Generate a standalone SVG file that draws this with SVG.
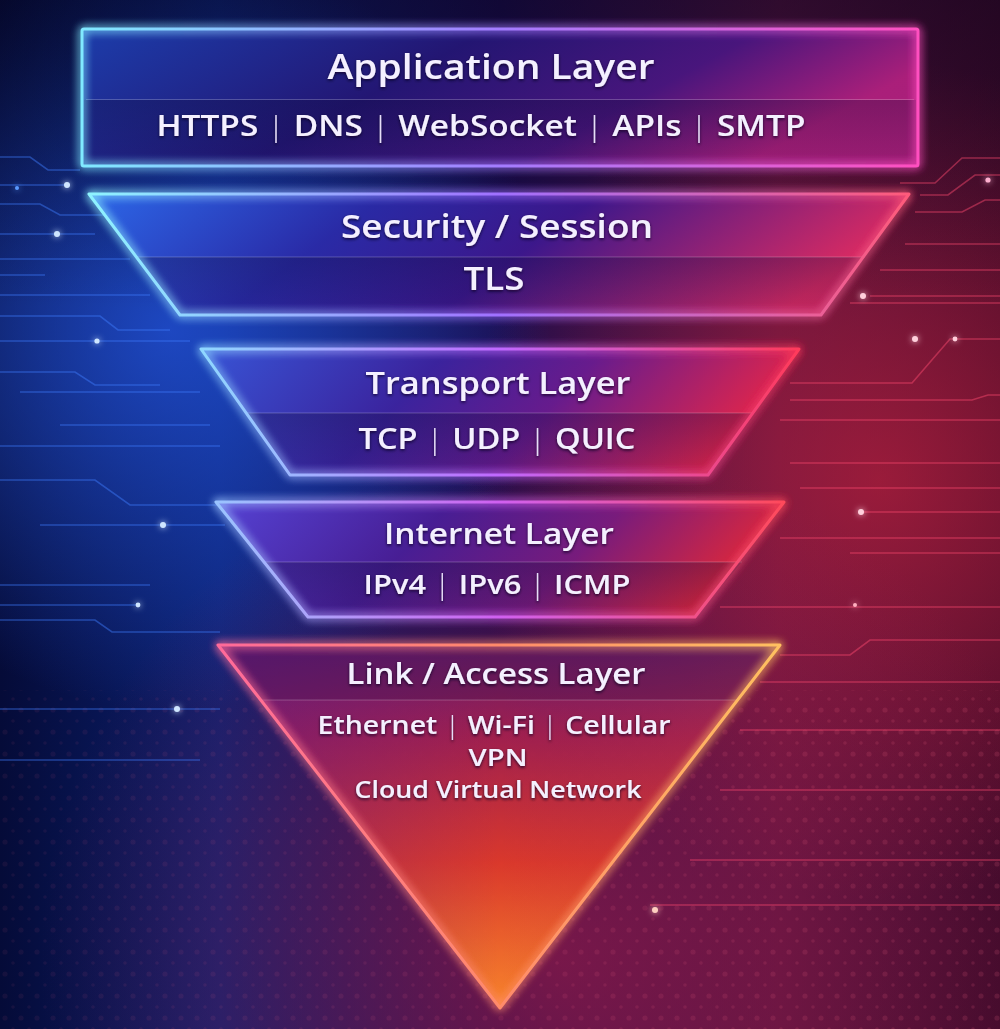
<svg xmlns="http://www.w3.org/2000/svg" width="1000" height="1029" viewBox="0 0 1000 1029">
<defs>
<style>
.t{font-family:"Open Sans","Noto Sans","Liberation Sans",sans-serif;font-weight:600;fill:#f4f0ff;text-anchor:middle;filter:url(#tshadow)}
.p{font-weight:300;fill:#e6def8}
.lb{fill:none;stroke:#3f7dff;stroke-width:1.6;opacity:.45}
.lr{fill:none;stroke:#ff4a70;stroke-width:1.6;opacity:.45}
.div{stroke:#ffffff;stroke-width:1.2;opacity:.22}
.edge{fill:none;stroke-width:3;stroke-linejoin:round;filter:url(#glow)}
</style>
<filter id="glow" x="-20%" y="-20%" width="140%" height="140%">
<feGaussianBlur in="SourceGraphic" stdDeviation="5" result="b"/>
<feMerge><feMergeNode in="b"/><feMergeNode in="b"/><feMergeNode in="SourceGraphic"/></feMerge>
</filter>
<filter id="dotglow" x="-300%" y="-300%" width="700%" height="700%">
<feGaussianBlur stdDeviation="3" result="b"/>
<feMerge><feMergeNode in="b"/><feMergeNode in="SourceGraphic"/></feMerge>
</filter>
<filter id="tshadow" x="-10%" y="-30%" width="120%" height="160%">
<feDropShadow dx="0" dy="1.5" stdDeviation="1.5" flood-color="#0a0420" flood-opacity=".8"/>
</filter>
<linearGradient id="bgH" x1="0" y1="0" x2="1" y2="0">
<stop offset="0" stop-color="#050b38"/>
<stop offset=".22" stop-color="#0b2070"/>
<stop offset=".5" stop-color="#1b0c4c"/>
<stop offset=".78" stop-color="#52123e"/>
<stop offset="1" stop-color="#3d0a2a"/>
</linearGradient>
<radialGradient id="gBlue" cx="170" cy="330" r="380" gradientUnits="userSpaceOnUse">
<stop offset="0" stop-color="#2456e0" stop-opacity=".75"/>
<stop offset="1" stop-color="#2456e0" stop-opacity="0"/>
</radialGradient>
<radialGradient id="gRed" cx="880" cy="480" r="420" gradientUnits="userSpaceOnUse">
<stop offset="0" stop-color="#d0243e" stop-opacity=".6"/>
<stop offset="1" stop-color="#d0243e" stop-opacity="0"/>
</radialGradient>
<radialGradient id="gBot" cx="560" cy="960" r="520" gradientUnits="userSpaceOnUse">
<stop offset="0" stop-color="#9a1c4a" stop-opacity=".7"/>
<stop offset="1" stop-color="#9a1c4a" stop-opacity="0"/>
</radialGradient>
<linearGradient id="gTop" x1="0" y1="0" x2="0" y2="1">
<stop offset="0" stop-color="#05031a" stop-opacity=".45"/>
<stop offset=".3" stop-color="#05031a" stop-opacity="0"/>
</linearGradient>
<pattern id="dots" width="16" height="22" patternUnits="userSpaceOnUse">
<circle cx="5" cy="6" r="2.6" fill="#ff6a8a"/>
<circle cx="13" cy="17" r="1.8" fill="#ff6a8a"/>
</pattern>
<linearGradient id="dotFade" x1="0" y1="0" x2="1" y2="0">
<stop offset="0" stop-color="#7a60ff" stop-opacity=".15"/>
<stop offset=".5" stop-color="#ff5a8a" stop-opacity=".2"/>
<stop offset="1" stop-color="#ff5a6a" stop-opacity=".3"/>
</linearGradient>
<mask id="dotMask">
<rect x="0" y="690" width="1000" height="339" fill="url(#dotFade)"/>
</mask>

<linearGradient id="fApp" x1="0" y1="0" x2="1" y2="0.3">
<stop offset="0" stop-color="#1d3fb0"/>
<stop offset=".45" stop-color="#241675"/>
<stop offset=".75" stop-color="#4a1680"/>
<stop offset="1" stop-color="#b0207e"/>
</linearGradient>
<linearGradient id="sApp" x1="0" y1="0" x2="1" y2="0">
<stop offset="0" stop-color="#80eaff"/>
<stop offset=".5" stop-color="#a37cff"/>
<stop offset="1" stop-color="#ff4fc0"/>
</linearGradient>
<linearGradient id="fSec" x1="0" y1="0" x2="1" y2="0.2">
<stop offset="0" stop-color="#2e6cf0"/>
<stop offset=".35" stop-color="#2b2aa8"/>
<stop offset=".6" stop-color="#3e1890"/>
<stop offset="1" stop-color="#e02c66"/>
</linearGradient>
<linearGradient id="sSec" x1="0" y1="0" x2="1" y2="0">
<stop offset="0" stop-color="#8ef4ff"/>
<stop offset=".5" stop-color="#a070ff"/>
<stop offset="1" stop-color="#ff5a7a"/>
</linearGradient>
<linearGradient id="fTr" x1="0" y1="0" x2="1" y2="0.2">
<stop offset="0" stop-color="#3a56d8"/>
<stop offset=".4" stop-color="#3d23a0"/>
<stop offset=".65" stop-color="#6a1c92"/>
<stop offset="1" stop-color="#e8264c"/>
</linearGradient>
<linearGradient id="sTr" x1="0" y1="0" x2="1" y2="0">
<stop offset="0" stop-color="#8fd8ff"/>
<stop offset=".5" stop-color="#c068ff"/>
<stop offset="1" stop-color="#ff3a5a"/>
</linearGradient>
<linearGradient id="fIn" x1="0" y1="0" x2="1" y2="0.2">
<stop offset="0" stop-color="#5a44d8"/>
<stop offset=".4" stop-color="#4a1e98"/>
<stop offset=".7" stop-color="#7a1c80"/>
<stop offset="1" stop-color="#e2283c"/>
</linearGradient>
<linearGradient id="sIn" x1="0" y1="0" x2="1" y2="0">
<stop offset="0" stop-color="#9ac4ff"/>
<stop offset=".5" stop-color="#d060f0"/>
<stop offset="1" stop-color="#ff4a5a"/>
</linearGradient>
<linearGradient id="fLk" x1="0" y1="0" x2="0" y2="1">
<stop offset="0" stop-color="#6a1c6a"/>
<stop offset=".25" stop-color="#a4204e"/>
<stop offset=".6" stop-color="#e03a2a"/>
<stop offset="1" stop-color="#ff8a2a"/>
</linearGradient>
<linearGradient id="fLkH" x1="0" y1="0" x2="1" y2="0">
<stop offset="0" stop-color="#5a1a90" stop-opacity=".45"/>
<stop offset=".5" stop-color="#5a1a90" stop-opacity="0"/>
<stop offset="1" stop-color="#ff5a20" stop-opacity=".15"/>
</linearGradient>
<linearGradient id="sLk" x1="0" y1="0" x2="1" y2="0">
<stop offset="0" stop-color="#ff6a9a"/>
<stop offset=".5" stop-color="#ff8a6a"/>
<stop offset="1" stop-color="#ffc060"/>
</linearGradient>
<linearGradient id="shadeLow" x1="0" y1="0" x2="0" y2="1">
<stop offset="0" stop-color="#0a0530" stop-opacity=".28"/>
<stop offset="1" stop-color="#0a0530" stop-opacity=".1"/>
</linearGradient>
</defs>

<g id="background">
<rect width="1000" height="1029" fill="url(#bgH)"/>
<rect width="1000" height="1029" fill="url(#gBlue)"/>
<rect width="1000" height="1029" fill="url(#gRed)"/>
<rect width="1000" height="1029" fill="url(#gBot)"/>
<rect width="1000" height="1029" fill="url(#gTop)"/>
<rect x="0" y="690" width="1000" height="339" fill="url(#dots)" mask="url(#dotMask)"/>
<g class="lb">
<path d="M0 157 H30 L48 170 H80"/>
<path d="M0 185 H70"/>
<path d="M0 204 H40 L60 215 H110"/>
<path d="M0 234 H95"/>
<path d="M0 259 H130"/>
<path d="M0 275 H45"/>
<path d="M0 295 H150"/>
<path d="M0 316 H100 L118 330 H170"/>
<path d="M0 341 H190"/>
<path d="M0 372 H75 L95 385 H160"/>
<path d="M20 392 H200"/>
<path d="M60 425 H210"/>
<path d="M0 446 H220"/>
<path d="M0 480 H95 L130 505 H220"/>
<path d="M40 525 H225"/>
<path d="M0 585 H150"/>
<path d="M0 605 H140"/>
<path d="M0 620 H95 L112 632 H220"/>
<path d="M0 709 H220"/>
<path d="M0 760 H200"/>
</g>
<g class="lr">
<path d="M1000 158 H962 L935 183 H900"/>
<path d="M1000 175 H975 L948 195 H920"/>
<path d="M1000 200 H985 L962 212 H915"/>
<path d="M1000 244 H905"/>
<path d="M1000 270 H880"/>
<path d="M1000 296 H870"/>
<path d="M1000 303 H850"/>
<path d="M1000 339 H950 L912 383 H790"/>
<path d="M1000 395 H988 L972 400 H790"/>
<path d="M1000 420 H780"/>
<path d="M1000 463 H790"/>
<path d="M1000 488 H800"/>
<path d="M1000 512 H860"/>
<path d="M1000 538 H780"/>
<path d="M1000 553 H850"/>
<path d="M1000 607 H720"/>
<path d="M1000 640 H870 L850 655 H780"/>
<path d="M1000 682 H760"/>
<path d="M1000 730 H740"/>
<path d="M1000 790 H720"/>
<path d="M1000 860 H690"/>
<path d="M1000 905 H650"/>
</g>
<g filter="url(#dotglow)">
<circle cx="67" cy="185" r="3" fill="#cfe6ff"/>
<circle cx="57" cy="234" r="3" fill="#cfe6ff"/>
<circle cx="97" cy="341" r="2.6" fill="#cfe6ff"/>
<circle cx="163" cy="525" r="3" fill="#cfe6ff"/>
<circle cx="177" cy="709" r="3" fill="#cfe6ff"/>
<circle cx="138" cy="605" r="2.4" fill="#cfe6ff"/>
<circle cx="17" cy="188" r="2" fill="#5a9aff"/>
<circle cx="863" cy="296" r="3" fill="#ffd0dc"/>
<circle cx="915" cy="339" r="3" fill="#ffd0dc"/>
<circle cx="955" cy="339" r="2.4" fill="#ffd0dc"/>
<circle cx="861" cy="512" r="3" fill="#ffd0dc"/>
<circle cx="988" cy="180" r="2.6" fill="#ffb0d0"/>
<circle cx="855" cy="605" r="2" fill="#ffb0c0"/>
<circle cx="655" cy="910" r="3" fill="#ffd0c0"/>
</g>
</g>

<g id="connectors"></g>

<g id="node-application">
<rect x="82" y="29" width="836" height="137" fill="url(#fApp)" opacity=".95"/>
<rect x="84" y="100" width="832" height="64" fill="url(#shadeLow)"/>
<line class="div" x1="86" y1="99.5" x2="914" y2="99.5"/>
<rect class="edge" x="82" y="29" width="836" height="137" rx="2" stroke="url(#sApp)"/>
<text class="t" x="491" y="79" font-size="35" textLength="327" lengthAdjust="spacingAndGlyphs">Application Layer</text>
<text class="t" x="481" y="136" font-size="28" textLength="649" lengthAdjust="spacingAndGlyphs">HTTPS <tspan class="p">|</tspan> DNS <tspan class="p">|</tspan> WebSocket <tspan class="p">|</tspan> APIs <tspan class="p">|</tspan> SMTP</text>
</g>

<g id="node-security">
<polygon points="89,194 909,194 821,315 180,315" fill="url(#fSec)" opacity=".93"/>
<polygon points="135,257 865,257 821,315 180,315" fill="url(#shadeLow)"/>
<line class="div" x1="135" y1="257" x2="865" y2="257"/>
<polygon class="edge" points="89,194 909,194 821,315 180,315" stroke="url(#sSec)"/>
<text class="t" x="497" y="238" font-size="33" textLength="312" lengthAdjust="spacingAndGlyphs">Security / Session</text>
<text class="t" x="494" y="290" font-size="32" textLength="61" lengthAdjust="spacingAndGlyphs">TLS</text>
</g>

<g id="node-transport">
<polygon points="201,349 799,349 708,475 290,475" fill="url(#fTr)" opacity=".93"/>
<polygon points="247,413 754,413 708,475 290,475" fill="url(#shadeLow)"/>
<line class="div" x1="247" y1="413" x2="754" y2="413"/>
<polygon class="edge" points="201,349 799,349 708,475 290,475" stroke="url(#sTr)"/>
<text class="t" x="498" y="394" font-size="30" textLength="265" lengthAdjust="spacingAndGlyphs">Transport Layer</text>
<text class="t" x="497" y="449" font-size="28" textLength="277" lengthAdjust="spacingAndGlyphs">TCP <tspan class="p">|</tspan> UDP <tspan class="p">|</tspan> QUIC</text>
</g>

<g id="node-internet">
<polygon points="216,502 784,502 695,617 308,617" fill="url(#fIn)" opacity=".93"/>
<polygon points="264,562 742,562 695,617 308,617" fill="url(#shadeLow)"/>
<line class="div" x1="264" y1="562" x2="742" y2="562"/>
<polygon class="edge" points="216,502 784,502 695,617 308,617" stroke="url(#sIn)"/>
<text class="t" x="499" y="544" font-size="29" textLength="230" lengthAdjust="spacingAndGlyphs">Internet Layer</text>
<text class="t" x="497" y="594" font-size="27" textLength="267" lengthAdjust="spacingAndGlyphs">IPv4 <tspan class="p">|</tspan> IPv6 <tspan class="p">|</tspan> ICMP</text>
</g>

<g id="node-link">
<polygon points="218,645 780,645 500,1008" fill="url(#fLk)" opacity=".95"/>
<polygon points="218,645 780,645 500,1008" fill="url(#fLkH)"/>
<polygon points="218,645 780,645 738,700 260,700" fill="#2a0a40" opacity=".25"/>
<line class="div" x1="260" y1="700" x2="738" y2="700"/>
<polygon class="edge" points="218,645 780,645 500,1008" stroke="url(#sLk)"/>
<text class="t" x="496" y="684" font-size="28" textLength="299" lengthAdjust="spacingAndGlyphs">Link / Access Layer</text>
<text class="t" x="494" y="734" font-size="25" textLength="353" lengthAdjust="spacingAndGlyphs">Ethernet <tspan class="p">|</tspan> Wi-Fi <tspan class="p">|</tspan> Cellular</text>
<text class="t" x="498" y="766" font-size="23" textLength="59" lengthAdjust="spacingAndGlyphs">VPN</text>
<text class="t" x="498" y="798" font-size="23" textLength="287" lengthAdjust="spacingAndGlyphs">Cloud Virtual Network</text>
</g>
</svg>
